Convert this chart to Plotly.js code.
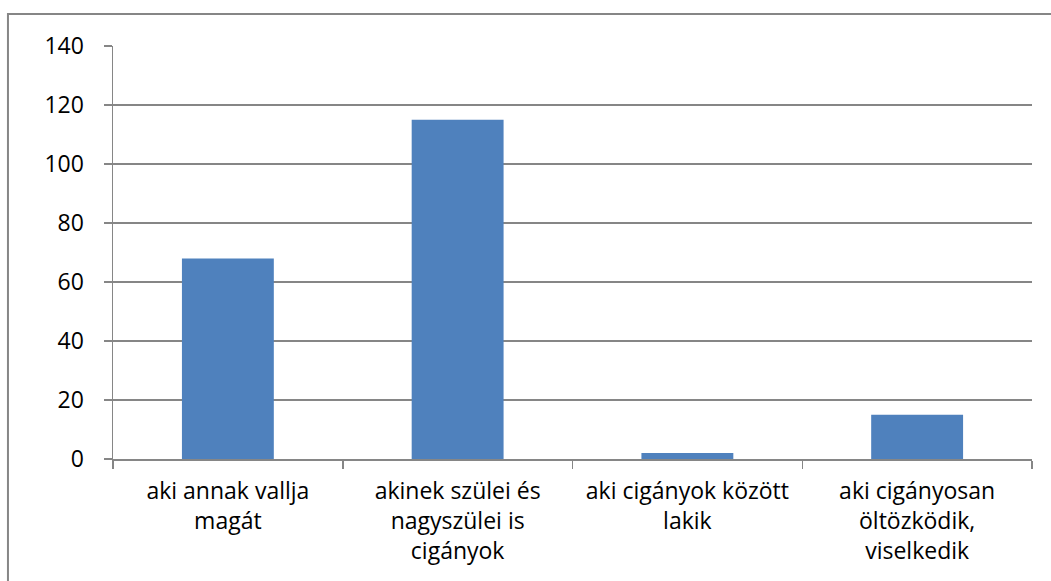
<!DOCTYPE html>
<html>
<head>
<meta charset="utf-8">
<script src="https://cdn.plot.ly/plotly-3.0.1.min.js"></script>
<style>html,body{margin:0;padding:0;background:#fff;}#chart{width:1051px;height:581px;}</style>
</head>
<body>
<div id="chart"></div>
<script>
var categories = [
  "aki annak vallja<br>magát",
  "akinek szülei és<br>nagyszülei is<br>cigányok",
  "aki cigányok között<br>lakik",
  "aki cigányosan<br>öltözködik,<br>viselkedik"
];
var values = [68, 115, 2, 15];
var yTicks = [0, 20, 40, 60, 80, 100, 120, 140];

var gray = "#868686";
var trace = {
  type: "bar",
  x: categories,
  y: values,
  marker: { color: "#4F81BD", line: { width: 0 } },
  width: 0.4,
  hoverinfo: "x+y"
};

var layout = {
  width: 1051,
  height: 581,
  margin: { l: 113, r: 19, t: 46, b: 122 },
  paper_bgcolor: "#fff",
  plot_bgcolor: "#fff",
  showlegend: false,
  font: { family: "Open Sans, sans-serif", size: 23, color: "#000" },
  xaxis: {
    type: "category",
    showline: true,
    linecolor: gray,
    linewidth: 1.5,
    ticks: "outside",
    tickson: "boundaries",
    ticklen: 8,
    tickcolor: gray,
    tickwidth: 1.5,
    showgrid: false,
    zeroline: false,
    ticklabelstandoff: 11,
    tickfont: { size: 23, color: "#000" },
    fixedrange: true
  },
  yaxis: {
    range: [0, 140],
    tickvals: yTicks,
    ticktext: yTicks.map(String),
    showline: true,
    linecolor: gray,
    linewidth: 1.5,
    ticks: "outside",
    ticklen: 8,
    tickcolor: gray,
    tickwidth: 1.5,
    showgrid: true,
    gridcolor: gray,
    gridwidth: 1.5,
    zeroline: false,
    ticklabelstandoff: 15,
    tickfont: { size: 23, color: "#000" },
    fixedrange: true
  },
  shapes: [{
    type: "rect",
    xref: "paper", yref: "paper",
    x0: -0.1143, x1: 1.2,
    y0: -0.6, y1: 1.0775,
    line: { color: gray, width: 2 },
    fillcolor: "rgba(0,0,0,0)",
    layer: "below"
  }]
};

Plotly.newPlot("chart", [trace], layout, { displayModeBar: false, staticPlot: true });
</script>
</body>
</html>
